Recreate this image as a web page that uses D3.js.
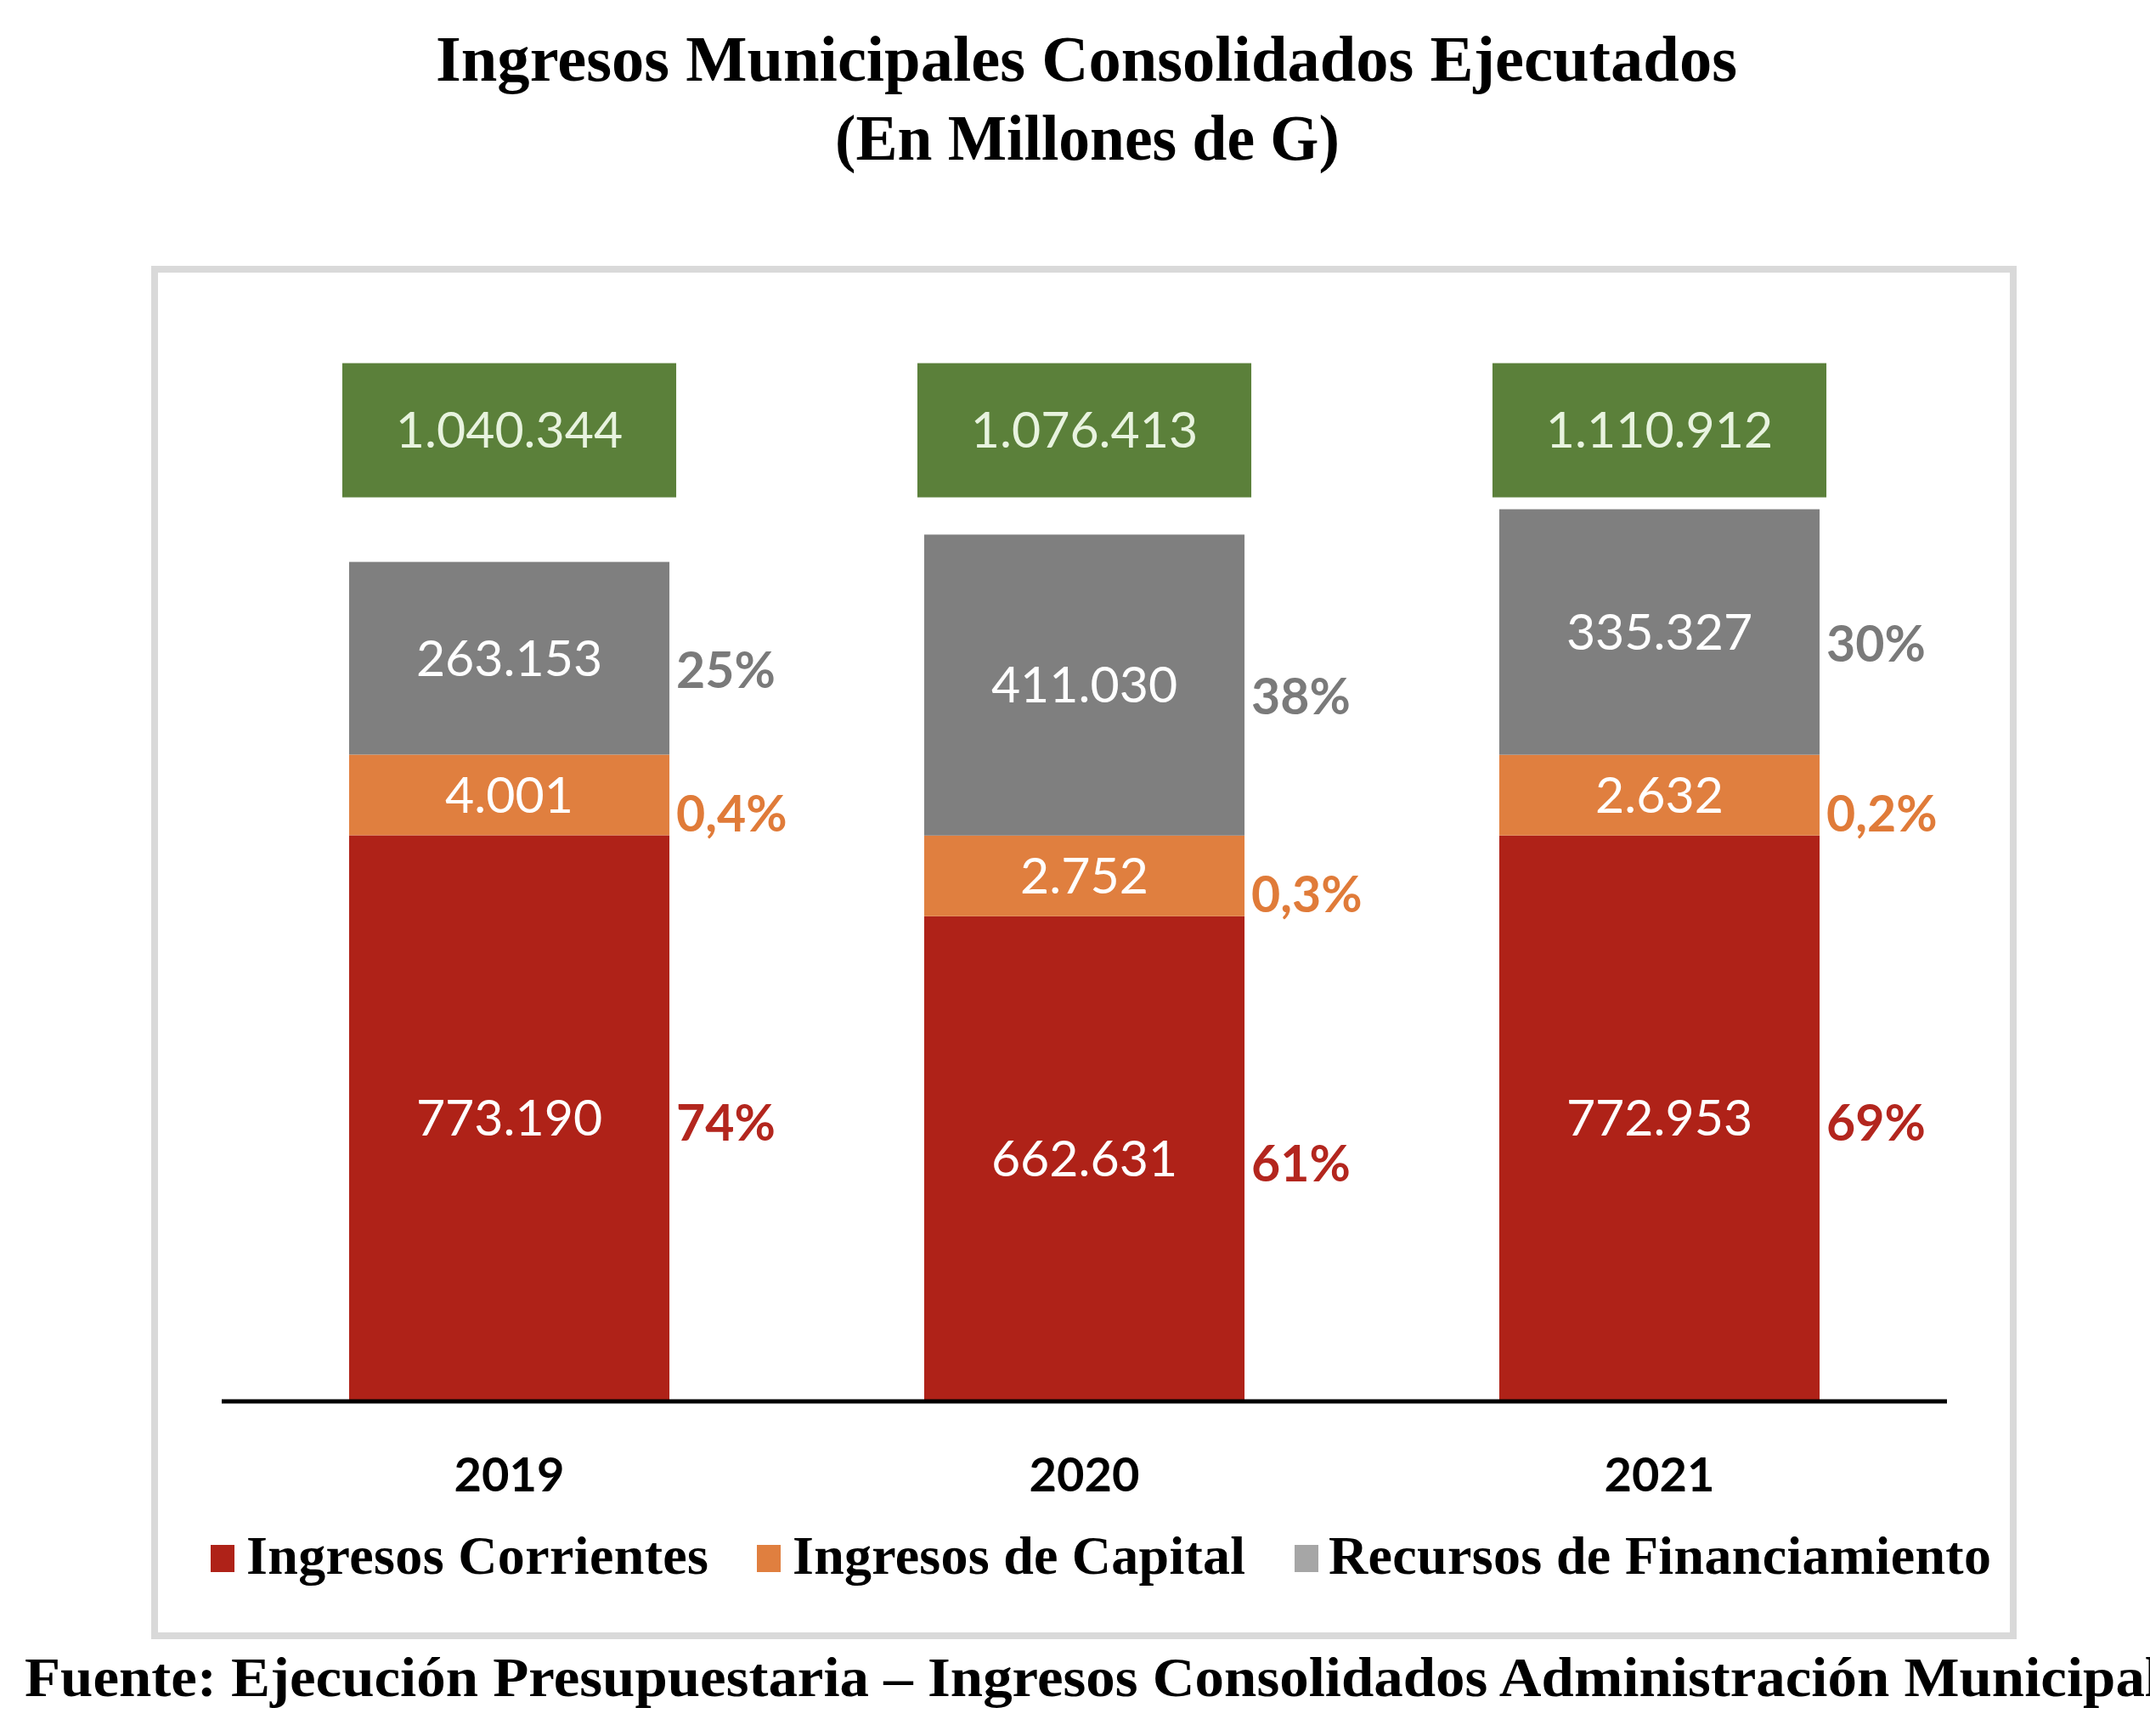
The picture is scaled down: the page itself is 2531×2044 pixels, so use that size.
<!DOCTYPE html>
<html>
<head>
<meta charset="utf-8">
<script src="https://cdn.jsdelivr.net/npm/d3@7"></script>
<style>
    body { margin: 0; background: #ffffff; }
    svg { display: block; }
</style>
</head>
<body>
<div id="chart"></div>
<script>
// Chart data (millones de G)
const years = ['2019', '2020', '2021'];
const corrientes = [773190, 662631, 772953];
const capital = [4001, 2752, 2632];
const financiamiento = [263153, 411030, 335327];
const totals = [1040344, 1076413, 1110912];

// Share labels as printed in the source
const pctCorrientes = ['74%', '61%', '69%'];
const pctCapital = ['0,4%', '0,3%', '0,2%'];
const pctFinanciamiento = ['25%', '38%', '30%'];

const legendLabels = ['Ingresos Corrientes', 'Ingresos de Capital', 'Recursos de Financiamiento'];

const colors = {
    corrientes: '#AF2218',
    capital: '#E07F3F',
    financiamiento: '#7F7F7F',
    total: '#5B803A',
    pctCorrientes: '#B3261E',
    pctCapital: '#E07B39',
    pctFinanciamiento: '#7A7A7A'
};

const width = 2531;
const height = 2044;
const baseline = 1650;
const serif = '"Liberation Serif", "DejaVu Serif", serif';
const sans = 'Lato, "Noto Sans", sans-serif';

// Spanish number format: 1.040.344
const fmt = d3.formatLocale({ decimal: ',', thousands: '.', grouping: [3], currency: ['', ''] }).format(',d');

const svg = d3.select('#chart')
    .append('svg')
    .attr('width', width)
    .attr('height', height)
    .attr('viewBox', `0 0 ${width} ${height}`);

// Title
const title = svg.append('g')
    .attr('font-family', serif)
    .attr('font-weight', 'bold')
    .attr('fill', '#000')
    .attr('text-anchor', 'middle');
title.append('text')
    .attr('x', 1279).attr('y', 95)
    .attr('font-size', 76)
    .attr('textLength', 1532).attr('lengthAdjust', 'spacingAndGlyphs')
    .text('Ingresos Municipales Consolidados Ejecutados');
title.append('text')
    .attr('x', 1280).attr('y', 188)
    .attr('font-size', 76)
    .attr('textLength', 594).attr('lengthAdjust', 'spacingAndGlyphs')
    .text('(En Millones de G)');

// Chart frame
svg.append('rect')
    .attr('x', 182).attr('y', 317)
    .attr('width', 2188).attr('height', 1609)
    .attr('fill', '#fff')
    .attr('stroke', '#D9D9D9')
    .attr('stroke-width', 8);

// Scales
const x = d3.scaleBand()
    .domain(years)
    .range([261, 2292])
    .paddingInner(0.443)
    .paddingOuter(0.2215);

const y = d3.scaleLinear()
    .domain([0, 1160000])
    .range([baseline, 650]);

// Small segments get a minimum height so their label fits
const minSeg = 95;
const segH = v => Math.max(baseline - y(v), 0);

const stacks = years.map((yr, i) => {
    const hRed = segH(corrientes[i]);
    const hOrange = Math.max(segH(capital[i]), minSeg);
    const hGrey = segH(financiamiento[i]);
    const top1 = baseline - hRed;
    const top2 = top1 - hOrange;
    const top3 = top2 - hGrey;
    return {
        year: yr, i,
        segs: [
            { key: 'corrientes', y0: top1, y1: baseline, value: corrientes[i], pct: pctCorrientes[i], pdy: 6 },
            { key: 'capital', y0: top2, y1: top1, value: capital[i], pct: pctCapital[i], pdy: 22 },
            { key: 'financiamiento', y0: top3, y1: top2, value: financiamiento[i], pct: pctFinanciamiento[i], pdy: 14 }
        ],
        top: top3
    };
});

// Total boxes sit on one row just above the tallest stack
const boxH = 158;
const boxY = d3.min(stacks, s => s.top) - 14 - boxH;

const barG = svg.append('g');

stacks.forEach(s => {
    const bx = x(s.year);
    const bw = x.bandwidth();

    s.segs.forEach(seg => {
        barG.append('rect')
            .attr('x', bx).attr('y', seg.y0)
            .attr('width', bw).attr('height', seg.y1 - seg.y0)
            .attr('fill', colors[seg.key]);

        const cy = (seg.y0 + seg.y1) / 2;
        barG.append('text')
            .attr('x', bx + bw / 2).attr('y', cy)
            .attr('dy', '0.35em')
            .attr('text-anchor', 'middle')
            .attr('font-family', sans)
            .attr('font-size', 59)
            .attr('fill', '#FFFFFF')
            .text(fmt(seg.value));

        const pctKey = 'pct' + seg.key.charAt(0).toUpperCase() + seg.key.slice(1);
        barG.append('text')
            .attr('x', bx + bw + 8).attr('y', cy + seg.pdy)
            .attr('dy', '0.35em')
            .attr('font-family', sans)
            .attr('font-weight', 'bold')
            .attr('font-size', 59)
            .attr('fill', colors[pctKey])
            .text(seg.pct);
    });

    barG.append('rect')
        .attr('x', bx - 8).attr('y', boxY)
        .attr('width', bw + 16).attr('height', boxH)
        .attr('fill', colors.total);
    barG.append('text')
        .attr('x', bx + bw / 2).attr('y', boxY + boxH / 2)
        .attr('dy', '0.35em')
        .attr('text-anchor', 'middle')
        .attr('font-family', sans)
        .attr('font-size', 59)
        .attr('fill', '#E8F3DF')
        .text(fmt(totals[s.i]));
});

// Category axis
const xAxis = svg.append('g')
    .attr('transform', `translate(0, ${baseline})`)
    .call(d3.axisBottom(x).tickSize(0).tickPadding(66));
xAxis.select('.domain')
    .attr('stroke', '#000')
    .attr('stroke-width', 5)
    .attr('d', 'M261,0H2292');
xAxis.selectAll('text')
    .attr('font-family', sans)
    .attr('font-weight', 'bold')
    .attr('font-size', 56)
    .attr('fill', '#000');

// Legend
const legendItems = [
    { label: legendLabels[0], color: colors.corrientes, sx: 248, tx: 290, tw: 544 },
    { label: legendLabels[1], color: colors.capital, sx: 891, tx: 933, tw: 533 },
    { label: legendLabels[2], color: '#A6A6A6', sx: 1524, tx: 1564, tw: 780 }
];
const legend = svg.append('g');
legendItems.forEach(d => {
    legend.append('rect')
        .attr('x', d.sx).attr('y', 1819)
        .attr('width', 28).attr('height', 32)
        .attr('fill', d.color);
    legend.append('text')
        .attr('x', d.tx).attr('y', 1853)
        .attr('font-family', serif)
        .attr('font-weight', 'bold')
        .attr('font-size', 64)
        .attr('textLength', d.tw).attr('lengthAdjust', 'spacing')
        .text(d.label);
});

// Source note
svg.append('text')
    .attr('x', 29).attr('y', 1997)
    .attr('font-family', serif)
    .attr('font-weight', 'bold')
    .attr('font-size', 66)
    .attr('textLength', 2515).attr('lengthAdjust', 'spacingAndGlyphs')
    .text('Fuente: Ejecución Presupuestaria – Ingresos Consolidados Administración Municipal');
</script>
</body>
</html>
